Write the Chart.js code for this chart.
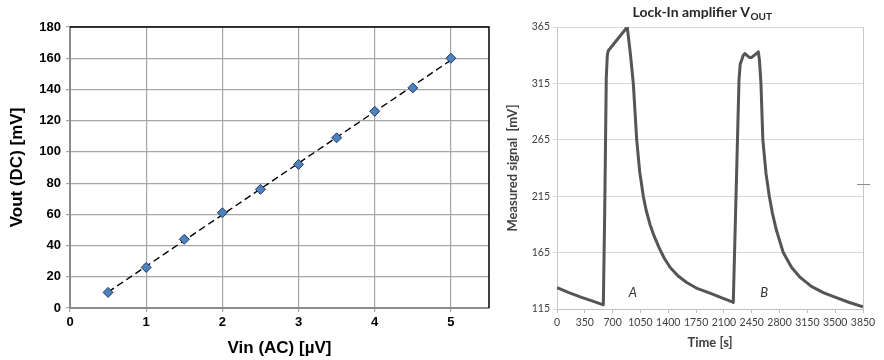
<!DOCTYPE html>
<html><head><meta charset="utf-8">
<script src="https://cdn.jsdelivr.net/npm/chart.js@4.4.0/dist/chart.umd.min.js"></script>
<style>
html,body{margin:0;padding:0;background:#fff;}
#wrap{position:relative;width:884px;height:360px;overflow:hidden;background:#fff;}
#c1{position:absolute;left:0;top:0;}
#c2{position:absolute;left:490px;top:0;}
</style></head><body>
<div id="wrap"><canvas id="c1" width="500" height="360"></canvas><canvas id="c2" width="394" height="360"></canvas></div>
<script>
// ---------- Left chart data ----------
const vinValues  = [0.5, 1, 1.5, 2, 2.5, 3, 3.5, 4, 4.5, 5];
const voutValues = [10, 26, 44, 61, 76, 92, 109, 126, 141, 160];
const trendVin   = [0.5, 5];
const trendVout  = [10.2, 158.8];
const leftXTicks = [0, 1, 2, 3, 4, 5];
const leftYTicks = [0, 20, 40, 60, 80, 100, 120, 140, 160, 180];

// ---------- Right chart data ----------
const timeValues   = [0, 150, 300, 450, 583, 600, 620, 633, 645, 884,
                      925, 960, 1003, 1040, 1086, 1120, 1170, 1220, 1287, 1350, 1422, 1520, 1632, 1770, 1925, 2050, 2197, 2218,
                      2290, 2305, 2344, 2365, 2386, 2420, 2449, 2500, 2533, 2548,
                      2566, 2590, 2630, 2671, 2710, 2760, 2847, 2950, 3060, 3200, 3350, 3497, 3670, 3850];
const signalValues = [134, 129.5, 125.5, 122, 118.7, 200, 320, 340, 344, 365,
                      340, 315, 265, 237, 215, 203, 190, 180, 169, 160, 152, 144.5, 138.5, 133, 129, 125.5, 121.6, 120.7,
                      318, 332, 340, 341.5, 340, 338, 338, 341, 343, 335,
                      315, 265, 235, 215, 200, 185, 165, 152, 143, 135, 129.5, 125.5, 121, 117];
const timeTicks    = [0, 350, 700, 1050, 1400, 1750, 2100, 2450, 2800, 3150, 3500, 3850];
const signalTicks  = [115, 165, 215, 265, 315, 365];
const peakLabels       = ['A', 'B'];
const peakLabelTimes   = [955, 2605];
const peakLabelSignals = [129, 129];
const markerSignal     = 226;

// ---------- Left chart ----------
const leftBorder = {
  id: 'leftBorder',
  afterDraw(chart) {
    const {ctx, chartArea: a} = chart;
    ctx.save();
    ctx.strokeStyle = '#000';
    ctx.lineWidth = 1.5;
    ctx.beginPath();
    ctx.moveTo(a.left, a.top);
    ctx.lineTo(a.right, a.top);
    ctx.lineTo(a.right, a.bottom);
    ctx.stroke();
    ctx.restore();
  }
};

const boldArial = (s) => ({family: 'Liberation Sans, Arial, sans-serif', size: s, weight: 'bold'});

new Chart(document.getElementById('c1'), {
  type: 'scatter',
  data: {
    datasets: [
      {
        type: 'line',
        data: trendVin.map((x, i) => ({x, y: trendVout[i]})),
        borderColor: '#000',
        borderWidth: 1.4,
        borderDash: [7, 4],
        pointRadius: 0,
        fill: false,
        order: 2
      },
      {
        data: vinValues.map((x, i) => ({x, y: voutValues[i]})),
        pointStyle: 'rectRot',
        pointRadius: 5,
        backgroundColor: '#4F81BD',
        borderColor: '#1F3A68',
        borderWidth: 1,
        order: 1
      }
    ]
  },
  options: {
    responsive: false,
    animation: false,
    devicePixelRatio: 1,
    layout: {padding: {top: 27, right: 11, left: 0, bottom: 0}},
    plugins: {legend: {display: false}, tooltip: {enabled: false}},
    scales: {
      x: {
        type: 'linear', min: 0, max: 5.5,
        afterBuildTicks: s => { s.ticks = leftXTicks.map(v => ({value: v})); },
        afterFit: s => { s.height = 52; },
        ticks: {font: boldArial(13), color: '#000', padding: 3},
        grid: {color: '#a6a6a6', lineWidth: 1.2, tickLength: 4},
        border: {color: '#8c8c8c', width: 2},
        title: {display: true, text: 'Vin (AC) [µV]', font: boldArial(17), color: '#000', padding: {top: 0, bottom: 1}}
      },
      y: {
        type: 'linear', min: 0, max: 180,
        afterBuildTicks: s => { s.ticks = leftYTicks.map(v => ({value: v})); },
        afterFit: s => { s.width = 70; },
        ticks: {font: boldArial(13), color: '#000', padding: 5},
        grid: {color: '#a6a6a6', lineWidth: 1.2, tickLength: 4},
        border: {color: '#8c8c8c', width: 2},
        title: {display: true, text: 'Vout (DC) [mV]', font: boldArial(17), color: '#000', padding: {top: 7, bottom: 0}}
      }
    }
  },
  plugins: [leftBorder]
});

// ---------- Right chart ----------
const lato = (s, w, st) => ({family: 'Lato, sans-serif', size: s, weight: w || 'normal', style: st || 'normal'});

const rightExtras = {
  id: 'rightExtras',
  afterDraw(chart) {
    const {ctx, chartArea: a, scales: {x, y}} = chart;
    ctx.save();
    // right border
    ctx.strokeStyle = '#c8c8c8';
    ctx.lineWidth = 1;
    ctx.beginPath();
    ctx.moveTo(a.right + 0.5, a.top);
    ctx.lineTo(a.right + 0.5, a.bottom);
    ctx.stroke();
    // small stray tick on the right edge
    const ym = Math.round(y.getPixelForValue(markerSignal)) + 0.5;
    ctx.strokeStyle = '#8a8a8a';
    ctx.beginPath();
    ctx.moveTo(a.right - 6, ym);
    ctx.lineTo(a.right + 7, ym);
    ctx.stroke();
    // title with subscript
    const main = 'Lock-In amplifier V', sub = 'OUT';
    ctx.fillStyle = '#262626';
    ctx.textBaseline = 'alphabetic';
    ctx.textAlign = 'left';
    ctx.font = 'bold 14px Lato, sans-serif';
    const w1 = ctx.measureText(main).width;
    ctx.font = 'bold 10px Lato, sans-serif';
    const w2 = ctx.measureText(sub).width;
    const x0 = (a.left + a.right) / 2 - 8 - (w1 + w2) / 2;
    ctx.font = 'bold 14px Lato, sans-serif';
    ctx.fillText(main, x0, 17);
    ctx.font = 'bold 10px Lato, sans-serif';
    ctx.fillText(sub, x0 + w1 + 0.5, 20);
    // A / B annotations
    ctx.font = 'italic 13px Lato, sans-serif';
    ctx.fillStyle = '#333';
    ctx.textAlign = 'center';
    ctx.textBaseline = 'middle';
    peakLabels.forEach((t, i) => {
      ctx.fillText(t, x.getPixelForValue(peakLabelTimes[i]), y.getPixelForValue(peakLabelSignals[i]));
    });
    ctx.restore();
  }
};

new Chart(document.getElementById('c2'), {
  type: 'line',
  data: {
    datasets: [{
      data: timeValues.map((t, i) => ({x: t, y: signalValues[i]})),
      borderColor: '#555555',
      borderWidth: 3,
      borderJoinStyle: 'round',
      pointRadius: 0,
      fill: false,
      tension: 0
    }]
  },
  options: {
    responsive: false,
    animation: false,
    devicePixelRatio: 1,
    layout: {padding: {top: 27, right: 21, left: 0, bottom: 0}},
    plugins: {legend: {display: false}, tooltip: {enabled: false}},
    scales: {
      x: {
        type: 'linear', min: 0, max: 3850,
        afterBuildTicks: s => { s.ticks = timeTicks.map(v => ({value: v})); },
        afterFit: s => { s.height = 51; },
        ticks: {font: lato(10.5), color: '#404040', padding: 3, maxRotation: 0, autoSkip: false,
                callback: v => String(v)},
        grid: {drawOnChartArea: false, color: '#bfbfbf', tickLength: 4},
        border: {color: '#bfbfbf', width: 1},
        title: {display: true, text: 'Time [s]', font: lato(13, 'bold'), color: '#404040', padding: {top: 0, bottom: 9}}
      },
      y: {
        type: 'linear', min: 115, max: 365,
        afterBuildTicks: s => { s.ticks = signalTicks.map(v => ({value: v})); },
        afterFit: s => { s.width = 67; },
        ticks: {font: lato(10.5), color: '#404040', padding: 3, callback: v => String(v)},
        grid: {color: '#d9d9d9', lineWidth: 1, tickLength: 4},
        border: {color: '#c8c8c8', width: 1},
        title: {display: true, text: 'Measured signal  [mV]', font: lato(13, 'bold'), color: '#404040', padding: {top: 15, bottom: 0}}
      }
    }
  },
  plugins: [rightExtras]
});
</script>
</body></html>
